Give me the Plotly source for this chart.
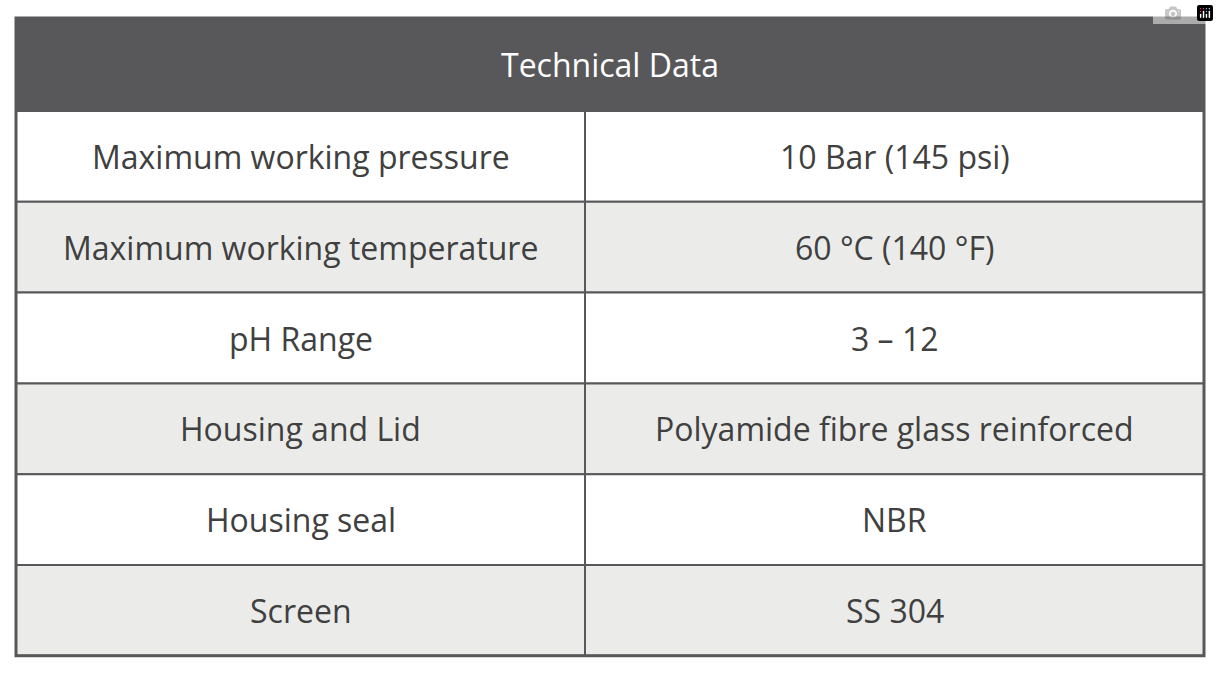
import plotly.graph_objects as go

header = "Technical Data"
params = ["Maximum working pressure", "Maximum working temperature", "pH Range",
          "Housing and Lid", "Housing seal", "Screen"]
values = ["10 Bar (145 psi)", "60 °C (140 °F)", "3 – 12",
          "Polyamide fibre glass reinforced", "NBR", "SS 304"]

W, H = 1219, 676
X0, XM, X1 = 16, 585, 1204
Y0, YH = 18, 111
RH = 90.8
BORDER = "#58585a"
FONT = dict(family="Open Sans", size=32, color="#404040")

fig = go.Figure()
shapes, ann = [], []
shapes.append(dict(type="rect", x0=X0, x1=X1, y0=Y0, y1=YH, fillcolor=BORDER, line_width=0))
ann.append(dict(x=(X0 + X1) / 2, y=(Y0 + YH) / 2, text=header, showarrow=False,
                font=dict(family="Open Sans", size=32, color="white")))
for i, (p, v) in enumerate(zip(params, values)):
    ya, yb = YH + i * RH, YH + (i + 1) * RH
    fill = "#ffffff" if i % 2 == 0 else "#ebecea"
    shapes.append(dict(type="rect", x0=X0, x1=X1, y0=ya, y1=yb, fillcolor=fill,
                       line=dict(color=BORDER, width=2)))
    ann.append(dict(x=(X0 + XM) / 2, y=(ya + yb) / 2, text=p, showarrow=False, font=FONT))
    ann.append(dict(x=(XM + X1) / 2, y=(ya + yb) / 2, text=v, showarrow=False, font=FONT))
YB = YH + len(params) * RH
shapes.append(dict(type="line", x0=XM, x1=XM, y0=YH, y1=YB, line=dict(color=BORDER, width=2)))
shapes.append(dict(type="rect", x0=X0, x1=X1, y0=Y0, y1=YB, line=dict(color=BORDER, width=3)))

fig.update_layout(width=W, height=H, margin=dict(l=0, r=0, t=0, b=0),
                  paper_bgcolor="white", plot_bgcolor="white",
                  shapes=shapes, annotations=ann,
                  xaxis=dict(range=[0, W], visible=False, fixedrange=True),
                  yaxis=dict(range=[H, 0], visible=False, fixedrange=True))
fig.write_html("out.html", post_script="document.body.style.margin='0';")
